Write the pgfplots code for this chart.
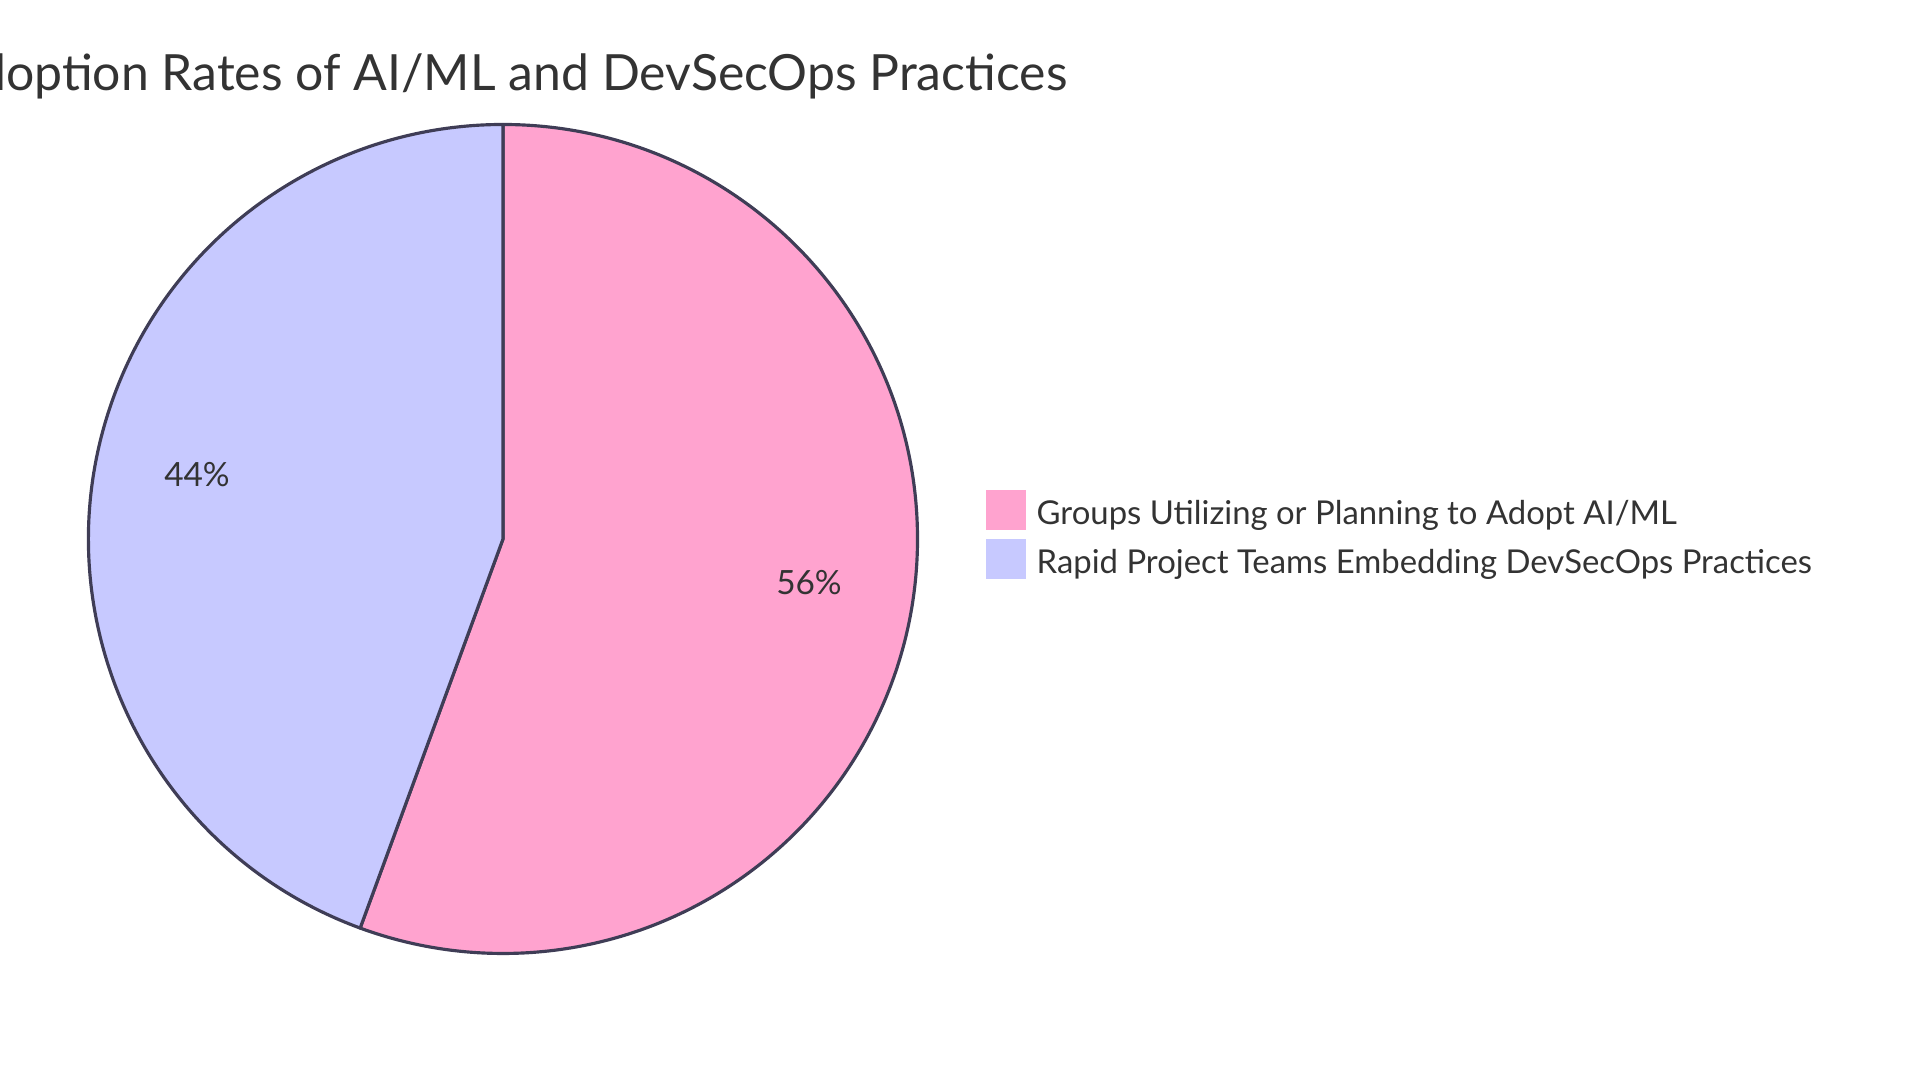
\documentclass[border=0pt]{standalone}
\usepackage{pgfplots}
\pgfplotsset{compat=1.18}
\usepackage{fontspec}
\setmainfont{Lato}
\definecolor{pinkA}{HTML}{FFA3CF}
\definecolor{lavB}{HTML}{C7C9FF}
\definecolor{strokeC}{HTML}{3F3D56}
\definecolor{txt}{HTML}{333333}
\begin{document}
\begin{tikzpicture}
% data (percent)
\def\valA{55.6}
\def\valB{44.4}
\pgfmathsetmacro{\endA}{90-3.6*\valA}
\begin{axis}[
  width=19.2cm, height=10.83cm, scale only axis,
  xmin=0, xmax=1920, ymin=0, ymax=1083,
  hide axis, clip=false,
]
% slices (center at pixel 503,539 from top -> y=544)
\filldraw[fill=pinkA, draw=strokeC, line width=0.9pt, line join=round]
  (axis cs:503,544) -- ++(90:4.145cm) arc[start angle=90, end angle=\endA, radius=4.145cm] -- cycle;
\filldraw[fill=lavB, draw=strokeC, line width=0.9pt, line join=round]
  (axis cs:503,544) -- ++(\endA:4.145cm) arc[start angle=\endA, end angle=-270, radius=4.145cm] -- cycle;
% percent labels
\node[text=txt, font=\fontsize{9.5pt}{11pt}\selectfont] at (axis cs:809,500) {\pgfmathprintnumber[fixed,precision=0,assume math mode=true]{\valA}\%};
\node[text=txt, font=\fontsize{9.5pt}{11pt}\selectfont] at (axis cs:197,608) {\pgfmathprintnumber[fixed,precision=0,assume math mode=true]{\valB}\%};
% title
\node[text=txt, anchor=base east, font=\fontsize{14.2pt}{18pt}\selectfont, inner sep=0pt] at (axis cs:1068,992) {Adoption Rates of AI/ML and DevSecOps Practices};
% legend
\fill[pinkA] (axis cs:986,553) rectangle (axis cs:1026,593);
\fill[lavB] (axis cs:986,504) rectangle (axis cs:1026,544);
\node[text=txt, anchor=west, inner sep=0pt, font=\fontsize{9.35pt}{11pt}\selectfont] at (axis cs:1036,568) {Groups Utilizing or Planning to Adopt AI/ML};
\node[text=txt, anchor=west, inner sep=0pt, font=\fontsize{9.35pt}{11pt}\selectfont] at (axis cs:1036,519) {Rapid Project Teams Embedding DevSecOps Practices};
\end{axis}
\pgfresetboundingbox
\useasboundingbox (current axis.south west) rectangle (current axis.north east);
\end{tikzpicture}
\end{document}
